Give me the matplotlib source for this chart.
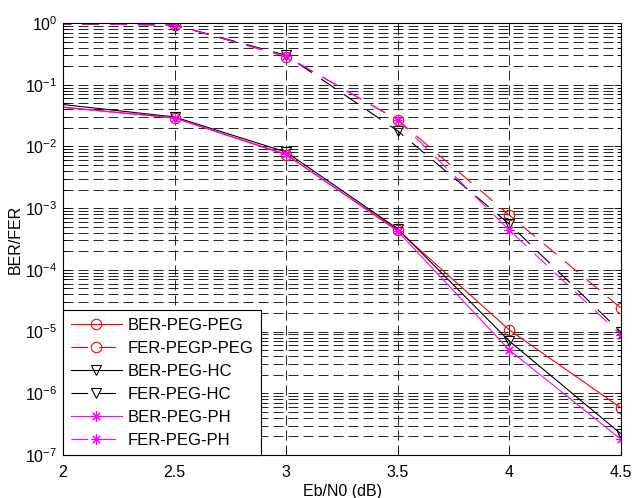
import matplotlib
matplotlib.use("Agg")
import matplotlib.pyplot as plt
import numpy as np
from matplotlib.ticker import LogLocator, FixedLocator, NullFormatter

plt.rcParams['font.family'] = ['Liberation Sans', 'DejaVu Sans']
plt.rcParams['lines.scale_dashes'] = False
plt.rcParams['axes.unicode_minus'] = False

# Eb/N0 points (first point lies left of the visible x-range)
ebn0 = [1.5, 2.5, 3.0, 3.5, 4.0, 4.5]

ber_peg_peg = [0.065, 0.029, 0.0073, 4.4e-4, 1.06e-5, 5.8e-7]
fer_pegp_peg = [1.0, 0.93, 0.285, 0.0268, 7.7e-4, 2.4e-5]
ber_peg_hc = [0.076, 0.030, 0.0081, 4.6e-4, 7.0e-6, 2.2e-7]
fer_peg_hc = [1.0, 0.93, 0.30, 0.0178, 5.5e-4, 9.8e-6]
ber_peg_ph = [0.063, 0.029, 0.0075, 4.2e-4, 5.0e-6, 1.8e-7]
fer_peg_ph = [1.0, 0.93, 0.29, 0.0268, 4.4e-4, 8.8e-6]

labels = ['BER-PEG-PEG', 'FER-PEGP-PEG', 'BER-PEG-HC', 'FER-PEG-HC',
          'BER-PEG-PH', 'FER-PEG-PH']
xticks = [2, 2.5, 3, 3.5, 4, 4.5]

fig = plt.figure(figsize=(6.32, 4.98), dpi=100)
ax = fig.add_axes([0.0997, 0.0863, 0.8829, 0.8675])

dash = (0, (12, 8))
star = (8, 2, 0)
series = [
    (ber_peg_peg, 'red', 'o', '-'),
    (fer_pegp_peg, 'red', 'o', dash),
    (ber_peg_hc, 'black', 'v', '-'),
    (fer_peg_hc, 'black', 'v', dash),
    (ber_peg_ph, 'magenta', star, '-'),
    (fer_peg_ph, 'magenta', star, dash),
]
for (vals, c, m, ls), lab in zip(series, labels):
    ax.semilogy(ebn0, vals, color=c, marker=m, linestyle=ls, linewidth=0.8,
                markersize=7.5, markerfacecolor='none', markeredgecolor=c,
                markeredgewidth=0.8, label=lab)

ax.set_xlim(2, 4.5)
ax.set_ylim(1e-7, 1)
ax.xaxis.set_major_locator(FixedLocator(xticks))
ax.set_xticklabels([('%g' % t) for t in xticks])
ax.yaxis.set_major_locator(LogLocator(base=10, numticks=20))
ax.yaxis.set_minor_locator(LogLocator(base=10, subs=np.arange(2, 10), numticks=20))
ax.yaxis.set_minor_formatter(NullFormatter())

gridstyle = dict(color='black', linestyle=(0, (7.2, 3.6)), linewidth=0.6)
ax.grid(True, which='major', axis='both', **gridstyle)
ax.grid(True, which='minor', axis='y', **gridstyle)
ax.set_axisbelow(True)

ax.tick_params(which='both', direction='in', top=True, right=True,
               labelsize=11.5, width=0.6)
ax.tick_params(which='major', length=5)
ax.tick_params(which='minor', length=3)
ax.tick_params(axis='x', pad=7)
ax.tick_params(axis='y', pad=4)
for s in ax.spines.values():
    s.set_linewidth(0.8)

ax.set_xlabel('Eb/N0 (dB)', fontsize=11.5, labelpad=3)
ax.set_ylabel('BER/FER', fontsize=11.5, labelpad=2)

leg = ax.legend(loc='lower left', fontsize=12, fancybox=False, framealpha=1,
                edgecolor='black', borderaxespad=0, handlelength=3.1,
                labelspacing=0.48, borderpad=0.45, handletextpad=0.35)
leg.get_frame().set_linewidth(0.8)

fig.savefig('out.png', dpi=100)
